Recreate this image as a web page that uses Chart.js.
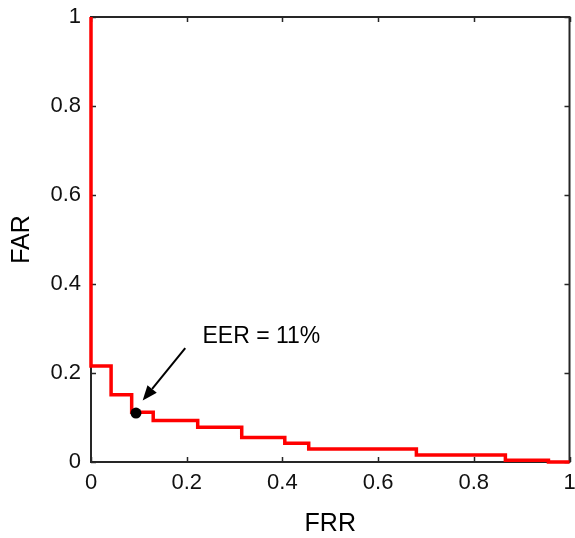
<!DOCTYPE html>
<html>
<head>
<meta charset="utf-8">
<script src="https://cdn.jsdelivr.net/npm/chart.js@4.4.0/dist/chart.umd.min.js"></script>
<style>
  html, body { margin: 0; padding: 0; background: #fff; }
  #wrap { width: 575px; height: 538px; position: relative; }
</style>
</head>
<body>
<div id="wrap"><canvas id="roc"></canvas></div>
<script>
// DET curve values (step points, horizontal then down)
const frr = [0, 0, 0.042, 0.085, 0.13, 0.223, 0.315, 0.405, 0.455, 0.68, 0.866, 0.956, 1];
const far = [1, 0.216, 0.151, 0.112, 0.093, 0.078, 0.055, 0.042, 0.029, 0.016, 0.004, 0, 0];

// equal error rate marker
const eerPoint = [0.094, 0.11];
const eerLabel = 'EER = 11%';
const eerLabelAt = [0.233, 0.268];
const arrowFrom = [0.197, 0.256];
const arrowTo = [0.108, 0.138];

const tickValues = [0, 0.2, 0.4, 0.6, 0.8, 1];
const xTitle = 'FRR';
const yTitle = 'FAR';

const FONT = 'Liberation Sans, Arial, sans-serif';

// frame + inward ticks on all four sides, like a matlab box
const frame = {
    id: 'frame',
    beforeDatasetsDraw(chart) {
        const { ctx, chartArea: a, scales } = chart;
        ctx.save();
        ctx.strokeStyle = '#262626';
        ctx.lineWidth = 2;
        ctx.strokeRect(a.left, a.top, a.right - a.left, a.bottom - a.top);
        ctx.lineWidth = 1.5;
        ctx.beginPath();
        tickValues.forEach(v => {
            const x = Math.round(scales.x.getPixelForValue(v)) + 0.5;
            const y = Math.round(scales.y.getPixelForValue(v)) + 0.5;
            ctx.moveTo(x, a.bottom); ctx.lineTo(x, a.bottom - 5);
            ctx.moveTo(x, a.top); ctx.lineTo(x, a.top + 5);
            ctx.moveTo(a.left, y); ctx.lineTo(a.left + 5, y);
            ctx.moveTo(a.right, y); ctx.lineTo(a.right - 5, y);
        });
        ctx.stroke();
        ctx.restore();
    },
    afterDatasetsDraw(chart) {
        const { ctx, scales } = chart;
        const px = p => [scales.x.getPixelForValue(p[0]), scales.y.getPixelForValue(p[1])];
        const [x1, y1] = px(arrowFrom);
        const [x2, y2] = px(arrowTo);
        const ang = Math.atan2(y2 - y1, x2 - x1);
        const head = 15, half = 6;
        ctx.save();
        ctx.strokeStyle = '#000';
        ctx.fillStyle = '#000';
        ctx.lineWidth = 2;
        ctx.beginPath();
        ctx.moveTo(x1, y1);
        ctx.lineTo(x2 - head * Math.cos(ang), y2 - head * Math.sin(ang));
        ctx.stroke();
        ctx.beginPath();
        ctx.moveTo(x2, y2);
        ctx.lineTo(x2 - head * Math.cos(ang) + half * Math.sin(ang), y2 - head * Math.sin(ang) - half * Math.cos(ang));
        ctx.lineTo(x2 - head * Math.cos(ang) - half * Math.sin(ang), y2 - head * Math.sin(ang) + half * Math.cos(ang));
        ctx.closePath();
        ctx.fill();

        const [tx, ty] = px(eerLabelAt);
        ctx.font = '23px ' + FONT;
        ctx.textAlign = 'left';
        ctx.textBaseline = 'alphabetic';
        ctx.fillText(eerLabel, tx, ty);
        ctx.restore();
    }
};

new Chart(document.getElementById('roc'), {
    type: 'line',
    data: {
        datasets: [{
            label: 'EER',
            data: [{ x: eerPoint[0], y: eerPoint[1] }],
            showLine: false,
            pointRadius: 5.5,
            pointBackgroundColor: '#000',
            pointBorderWidth: 0,
            clip: false,
            order: 0
        }, {
            label: 'DET',
            data: frr.map((v, i) => ({ x: v, y: far[i] })),
            borderColor: '#ff0000',
            borderWidth: 3.5,
            stepped: 'before',
            pointRadius: 0,
            fill: false,
            clip: false,
            order: 1
        }]
    },
    options: {
        responsive: true,
        maintainAspectRatio: false,
        animation: false,
        layout: { padding: { top: 17, right: 4, left: 0, bottom: 0 } },
        plugins: {
            legend: { display: false },
            tooltip: { enabled: false }
        },
        scales: {
            x: {
                type: 'linear',
                min: 0,
                max: 1,
                afterFit: s => { s.height = 76; s.paddingLeft = 0; s.paddingRight = 0; },
                afterBuildTicks: s => { s.ticks = tickValues.map(v => ({ value: v })); },
                grid: { display: false, drawTicks: false },
                border: { display: false },
                ticks: {
                    padding: 8,
                    color: '#111',
                    font: { family: FONT, size: 22 },
                    callback: v => String(v)
                },
                title: {
                    display: true,
                    text: xTitle,
                    color: '#000',
                    padding: { top: 0, bottom: 0 },
                    font: { family: FONT, size: 25, lineHeight: 1.1 }
                }
            },
            y: {
                type: 'linear',
                min: 0,
                max: 1,
                afterFit: s => { s.width = 91; s.paddingTop = 0; s.paddingBottom = 0; },
                afterBuildTicks: s => { s.ticks = tickValues.map(v => ({ value: v })); },
                grid: { display: false, drawTicks: false },
                border: { display: false },
                ticks: {
                    padding: 10,
                    color: '#111',
                    font: { family: FONT, size: 22 },
                    callback: v => String(v)
                },
                title: {
                    display: true,
                    text: yTitle,
                    color: '#000',
                    padding: { top: 10, bottom: 0 },
                    font: { family: FONT, size: 25, lineHeight: 1 }
                }
            }
        }
    },
    plugins: [frame]
});
</script>
</body>
</html>
